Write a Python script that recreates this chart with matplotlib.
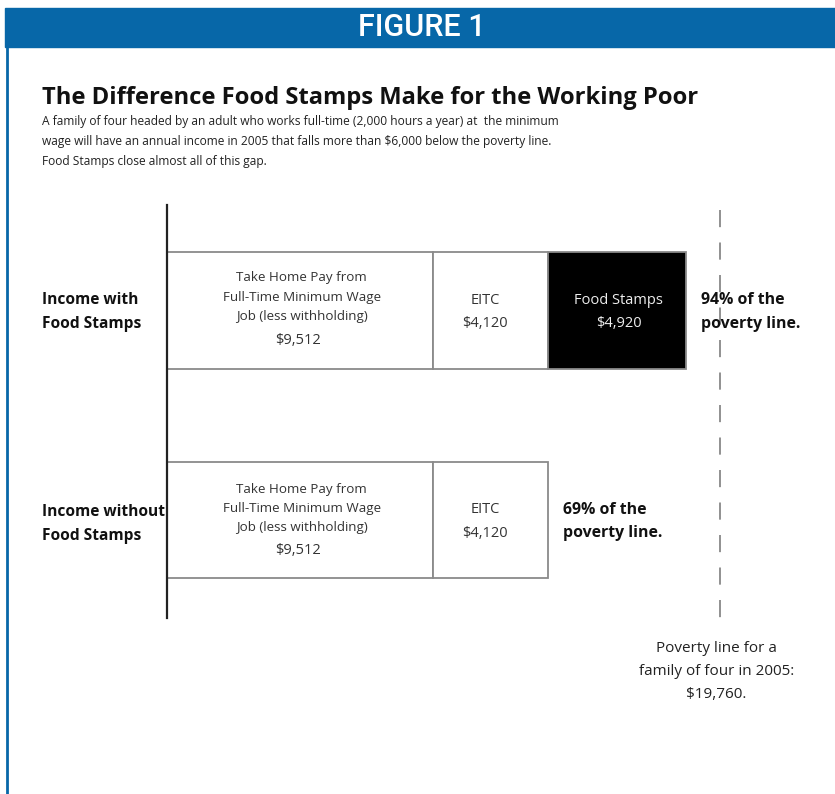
import matplotlib
matplotlib.use("Agg")
import matplotlib.pyplot as plt
from matplotlib.patches import Rectangle
from matplotlib import transforms

# ---- data ----
categories = ["Income with\nFood Stamps", "Income without\nFood Stamps"]
cat_pos = [1, 0]
take_home = [9512, 9512]
eitc = [4120, 4120]
food_stamps = [4920, 0]
poverty_line = 19760
pct_labels = ["94% of the\npoverty line.", "69% of the\npoverty line."]
seg_labels_pay = "Take Home Pay from\nFull-Time Minimum Wage\nJob (less withholding)"

W, H = 835, 794
fig = plt.figure(figsize=(W / 100, H / 100), dpi=100)
plt.rcParams['font.family'] = ['Open Sans', 'DejaVu Sans']

def fx(px):
    return px / W

def fy(py):
    return 1 - py / H

blue = '#0767a8'
# banner
fig.patches.append(Rectangle((fx(5), fy(47)), 1 - fx(5), (47 - 8) / H,
                             transform=fig.transFigure, color=blue, zorder=0))
fig.text(fx(422), fy(27), "FIGURE 1", color='white', fontsize=22, family='Roboto',
         fontweight='medium', ha='center', va='center')
# left border
fig.add_artist(plt.Line2D([fx(7), fx(7)], [fy(47), 0], transform=fig.transFigure,
                          color=blue, lw=2))

# title and subtitle
fig.text(fx(42), fy(98), "The Difference Food Stamps Make for the Working Poor",
         fontsize=17.1, fontweight='bold', ha='left', va='center', color='#111111')
subtitle = ["A family of four headed by an adult who works full-time (2,000 hours a year) at  the minimum",
            "wage will have an annual income in 2005 that falls more than $6,000 below the poverty line.",
            "Food Stamps close almost all of this gap."]
for i, line in enumerate(subtitle):
    fig.text(fx(42), fy(121 + 20 * i), line, fontsize=8.65, ha='left', va='center',
             color='#222222')

# main axes
px_per_dollar = 0.02797
xmax = 23800
ax_left = 167
ax_top, ax_bot = 205, 618
ax = fig.add_axes([fx(ax_left), fy(ax_bot), xmax * px_per_dollar / W, (ax_bot - ax_top) / H])
ax.set_xlim(0, xmax)
ax.set_ylim(-0.468, 1.504)
ax.set_xticks([])
ax.set_yticks([])
for s in ['top', 'right', 'bottom']:
    ax.spines[s].set_visible(False)
ax.spines['left'].set_color('#222222')
ax.spines['left'].set_linewidth(1.6)
ax.patch.set_alpha(0)

bar_h = 0.558
edge = '#8a8a8a'
lefts = [0, 0]
ax.barh(cat_pos, take_home, height=bar_h, left=lefts, color='white', edgecolor=edge, lw=1.3)
lefts2 = [a + b for a, b in zip(lefts, take_home)]
ax.barh(cat_pos, eitc, height=bar_h, left=lefts2, color='white', edgecolor=edge, lw=1.3)
lefts3 = [a + b for a, b in zip(lefts2, eitc)]
ax.barh(cat_pos[:1], food_stamps[:1], height=bar_h, left=lefts3[:1], color='black',
        edgecolor=edge, lw=1.3)

txt_col = '#333333'
for i, y in enumerate(cat_pos):
    cx = take_home[i] / 2 + 60
    py_shift = 0.064 if i == 0 else 0.055
    ax.text(cx, y + py_shift, seg_labels_pay, ha='center', va='center', fontsize=9.6,
            color=txt_col, linespacing=1.63)
    ax.text(cx - 150, y - 0.145, f"${take_home[i]:,}", ha='center', va='center',
            fontsize=10.5, color=txt_col)
    ex = lefts2[i] + eitc[i] / 2 - 200
    ax.text(ex, y - 0.007, f"EITC\n${eitc[i]:,}", ha='center', va='center', fontsize=10.5,
            color=txt_col, linespacing=1.77)
    if food_stamps[i] > 0:
        fxc = lefts3[i] + food_stamps[i] / 2 + 60
        ax.text(fxc, y - 0.007, f"Food Stamps\n${food_stamps[i]:,}", ha='center',
                va='center', fontsize=10.5, color='#eeeeee', linespacing=1.77)
    total = take_home[i] + eitc[i] + food_stamps[i]
    ax.annotate(pct_labels[i], xy=(total, y - 0.007), xytext=(15, 0),
                textcoords='offset pixels', ha='left', va='center', fontsize=11.4,
                fontweight='bold', color='#111111', linespacing=1.64)

# poverty line (drawn top to bottom so the dash pattern starts at the top)
ax.plot([poverty_line, poverty_line], [1.48, -0.525], color='#888888', lw=1.3,
        linestyle=(0, (9.5, 8.5)), clip_on=False)

# row labels
label_y = [312, 524]
for lab, py in zip(categories, label_y):
    fig.text(fx(42), fy(py), lab, fontsize=11.2, fontweight='bold', ha='left', va='center',
             color='#111111', linespacing=1.64)

trans = transforms.blended_transform_factory(ax.transData, fig.transFigure)
ax.text(poverty_line - 120, fy(671.5), "Poverty line for a\nfamily of four in 2005:\n$19,760.",
        transform=trans, ha='center', va='center', fontsize=11, color='#222222',
        linespacing=1.76)

fig.savefig("out.png", dpi=100)
